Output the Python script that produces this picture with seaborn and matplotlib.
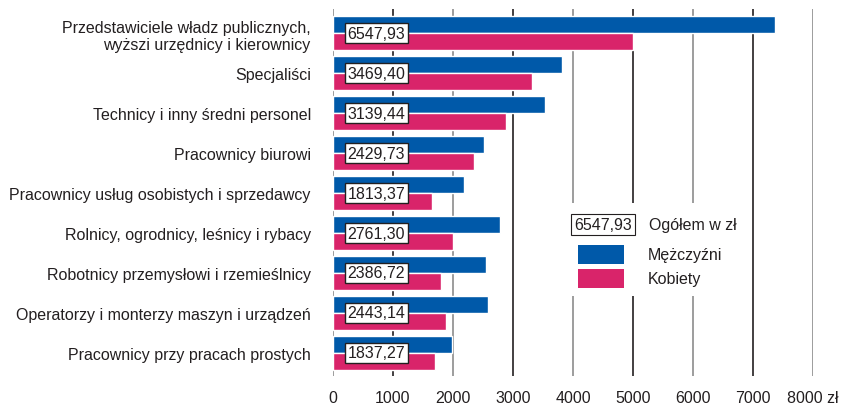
import pandas as pd
import matplotlib.pyplot as plt
import matplotlib.transforms as mtransforms
from matplotlib.patches import Rectangle
import seaborn as sns

# dane
kategorie = [
    'Przedstawiciele władz publicznych,\nwyższi urzędnicy i kierownicy',
    'Specjaliści',
    'Technicy i inny średni personel',
    'Pracownicy biurowi',
    'Pracownicy usług osobistych i sprzedawcy',
    'Rolnicy, ogrodnicy, leśnicy i rybacy',
    'Robotnicy przemysłowi i rzemieślnicy',
    'Operatorzy i monterzy maszyn i urządzeń',
    'Pracownicy przy pracach prostych',
]
mezczyzni = [7367, 3811, 3533, 2517, 2178, 2783, 2545, 2578, 1983]
kobiety = [4995, 3311, 2878, 2345, 1645, 2000, 1795, 1878, 1700]
ogolem = [6547.93, 3469.40, 3139.44, 2429.73, 1813.37, 2761.30, 2386.72, 2443.14, 1837.27]
x_ticks = [0, 1000, 2000, 3000, 4000, 5000, 6000, 7000, 8000]
x_tick_labels = ['0', '1000', '2000', '3000', '4000', '5000', '6000', '7000', '8000 zł']

kolory = {'Mężczyźni': '#0059a9', 'Kobiety': '#d9246a'}
tekst = '#231f20'
fs = 11.5

sns.set_style('white')
plt.rcParams['font.family'] = ['Liberation Sans', 'DejaVu Sans']

df = pd.DataFrame({
    'kategoria': kategorie * 2,
    'płeć': ['Mężczyźni'] * len(kategorie) + ['Kobiety'] * len(kategorie),
    'wartość': mezczyzni + kobiety,
})

fig = plt.figure(figsize=(8.52, 4.06), dpi=100)
ax = fig.add_axes([333 / 852, 1 - 377 / 406, 480 / 852, 367 / 406])

sns.barplot(data=df, y='kategoria', x='wartość', hue='płeć', orient='h',
            palette=kolory, saturation=1, width=0.85, ax=ax, legend=False, zorder=3)

ax.set_xlim(0, 8000)
ax.set_ylim(8.575, -0.6)

# siatka pionowa
for i, t in enumerate(x_ticks):
    ax.axvline(t, color='#8c8c8c' if i % 2 == 0 else '#231f20', lw=1.2, zorder=0)

for s in ax.spines.values():
    s.set_visible(False)

ax.set_xticks(x_ticks)
ax.set_xticklabels(x_tick_labels)
ax.tick_params(axis='x', length=0, pad=10, labelsize=fs, labelcolor=tekst)
ax.tick_params(axis='y', length=0, pad=16, labelsize=fs, labelcolor=tekst)
ax.set_xlabel('')
ax.set_ylabel('')

# wartości ogółem
trans = mtransforms.blended_transform_factory(ax.transAxes, ax.transData)
for i, v in enumerate(ogolem):
    ax.text(0.03, i, f'{v:.2f}'.replace('.', ','), transform=trans, ha='left', va='center',
            fontsize=fs, color=tekst, zorder=5,
            bbox=dict(boxstyle='square,pad=0.18', facecolor='white', edgecolor='#231f20', lw=1))

# legenda
ax.add_patch(Rectangle((0.46, 0.218), 0.355, 0.253, transform=ax.transAxes,
                       facecolor='white', edgecolor='none', zorder=1))
ax.text(0.502, 0.4128, '6547,93', transform=ax.transAxes, ha='left', va='center',
        fontsize=fs, color=tekst, zorder=5,
        bbox=dict(boxstyle='square,pad=0.18', facecolor='white', edgecolor='#231f20', lw=0.8))
ax.text(0.658, 0.4128, 'Ogółem w zł', transform=ax.transAxes, ha='left', va='center',
        fontsize=fs, color=tekst, zorder=5)
for j, (nazwa, kol) in enumerate(kolory.items()):
    yb = 0.331 - j * 0.0653
    ax.add_patch(Rectangle((0.51, yb - 0.026), 0.096, 0.052, transform=ax.transAxes,
                           facecolor=kol, edgecolor='none', zorder=5))
    ax.text(0.656, yb, nazwa, transform=ax.transAxes, ha='left', va='center',
            fontsize=fs, color=tekst, zorder=5)

for lab in ax.get_yticklabels():
    lab.set_horizontalalignment('right')
    lab.set_multialignment('right')

plt.savefig('out.png', dpi=100)
